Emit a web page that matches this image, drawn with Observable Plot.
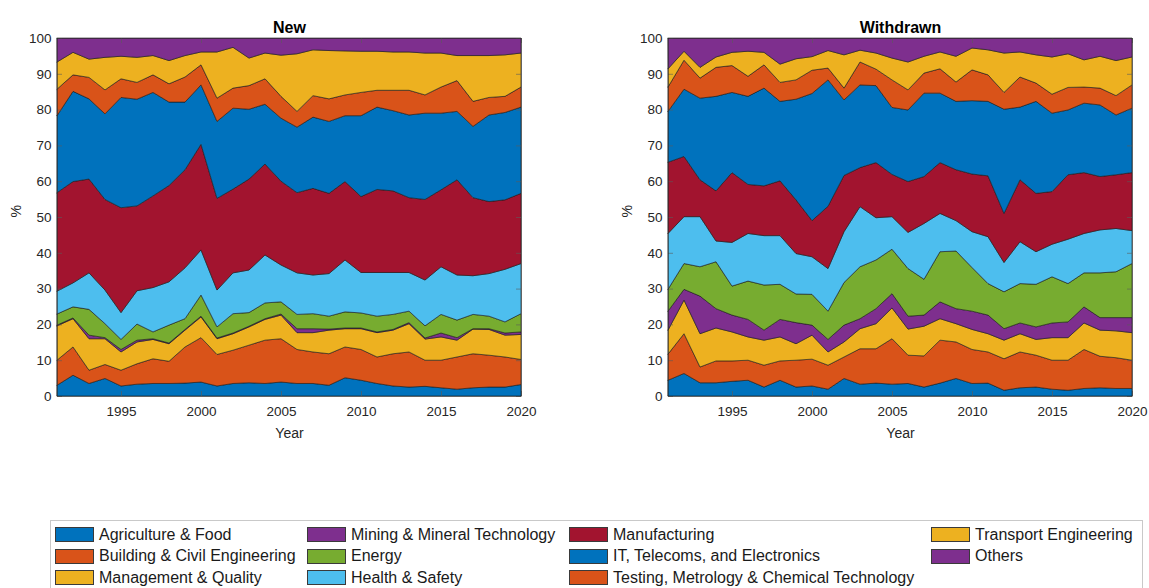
<!DOCTYPE html>
<html>
<head>
<meta charset="utf-8">
<script src="https://cdn.jsdelivr.net/npm/d3@7"></script>
<script src="https://cdn.jsdelivr.net/npm/@observablehq/plot@0.6"></script>
<style>
  body { margin: 0; background: #fff; font-family: "Liberation Sans", Arial, Helvetica, sans-serif; }
  #fig { position: relative; width: 1149px; height: 588px; overflow: hidden; background: #fff; }
  .panel { position: absolute; top: 0; }
  #legend { position: absolute; left: 50px; top: 520px; width: 1093px; height: 80px;
            border: 1px solid #c9c9c9; box-sizing: border-box; background: #fff; }
  .item { position: absolute; display: flex; align-items: center; font-size: 16px; color: #1a1a1a; white-space: nowrap; height: 15px; }
  .sw { width: 39px; height: 15px; box-sizing: border-box; border: 1px solid #3a3a3a; margin-right: 5px; flex: none; }
</style>
</head>
<body>
<div id="fig">
  <div id="left" class="panel" style="left:0px"></div>
  <div id="right" class="panel" style="left:590px"></div>
  <div id="legend"></div>
</div>
<script>
// Standards activity by sector, share of each year's total (%), 1991–2020
const years = [1991, 1992, 1993, 1994, 1995, 1996, 1997, 1998, 1999, 2000,
               2001, 2002, 2003, 2004, 2005, 2006, 2007, 2008, 2009, 2010,
               2011, 2012, 2013, 2014, 2015, 2016, 2017, 2018, 2019, 2020];

const categories = [
  "Agriculture & Food",
  "Building & Civil Engineering",
  "Management & Quality",
  "Mining & Mineral Technology",
  "Energy",
  "Health & Safety",
  "Manufacturing",
  "IT, Telecoms, and Electronics",
  "Testing, Metrology & Chemical Technology",
  "Transport Engineering",
  "Others"
];

const colors = ["#0072BD", "#D95319", "#EDB120", "#7E2F8E", "#77AC30", "#4DBEEE",
                "#A2142F", "#0072BD", "#D95319", "#EDB120", "#7E2F8E"];

const xTicks = [1995, 2000, 2005, 2010, 2015, 2020];
const yTicks = [0, 10, 20, 30, 40, 50, 60, 70, 80, 90, 100];

// New standards: share per sector (%)
const newAgriculture   = [3.0,5.8,3.5,4.9,2.8,3.3,3.5,3.5,3.6,3.9, 2.8,3.5,3.7,3.5,3.9,3.5,3.5,3.0,5.1,4.4, 3.5,2.8,2.5,2.7,2.3,1.9,2.3,2.5,2.5,3.2];
const newBuilding      = [7.0,7.9,3.7,3.9,4.4,5.7,6.9,6.2,10.1,12.4, 8.8,9.3,10.5,12.1,12.1,9.5,8.8,8.8,8.6,8.6, 7.4,9.0,9.8,7.3,7.7,9.0,9.5,8.9,8.4,7.0];
const newManagement    = [9.6,7.9,8.8,7.2,5.1,6.1,5.4,4.9,4.7,5.8, 4.4,4.6,5.1,5.8,6.6,4.7,5.4,6.6,5.1,5.8, 6.8,6.6,7.9,5.9,6.5,4.7,6.9,7.2,6.1,7.0];
const newMining        = [0.2,0.2,1.0,0.3,0.7,0.5,0.2,0.2,0.2,0.2, 0.2,0.2,0.2,0.2,0.3,1.1,1.1,0.3,0.2,0.2, 0.2,0.2,0.3,0.3,1.1,0.7,0.1,0.2,0.6,0.7];
const newEnergy        = [3.1,3.1,7.2,3.9,2.8,4.5,1.9,5.0,3.0,5.9, 3.1,5.4,3.8,4.4,3.4,4.0,4.2,3.6,4.5,4.2, 4.4,4.2,3.2,3.4,5.2,4.9,4.0,3.5,3.1,5.1];
const newHealth        = [6.4,6.7,10.2,9.4,7.5,9.3,12.4,12.1,14.2,12.6, 10.3,11.4,11.9,13.4,10.3,11.6,10.8,11.9,14.5,11.3, 12.2,11.7,10.8,12.8,13.3,12.6,10.8,11.9,14.7,14.0];
const newManufacturing = [27.5,28.3,26.2,25.3,29.3,23.7,25.6,26.9,27.4,29.5, 25.6,23.4,25.4,25.4,23.4,22.4,24.2,22.4,21.9,21.2, 23.2,22.8,20.9,22.5,21.5,26.6,21.8,20.1,19.4,19.6];
const newIT            = [21.5,25.2,22.4,23.9,30.8,29.8,28.9,23.3,18.9,16.6, 21.5,22.6,19.5,16.7,17.6,18.3,19.9,20.1,18.4,22.6, 23.0,22.4,23.1,24.1,21.4,19.1,19.9,24.2,24.4,24.1];
const newTesting       = [7.4,4.6,6.0,6.7,5.2,4.7,4.9,5.1,7.0,5.6, 6.5,5.6,6.6,7.1,6.1,4.4,6.0,6.3,5.8,6.5, 4.7,5.7,6.9,5.1,7.3,8.6,7.0,4.9,4.5,5.6];
const newTransport     = [7.6,6.3,5.1,9.1,6.3,7.0,5.4,6.5,6.0,3.6, 12.9,11.4,7.7,7.2,11.5,16.1,12.8,13.5,12.3,11.5, 10.9,10.7,10.7,11.7,9.5,7.0,12.8,11.7,11.6,9.5];
const newOthers        = [6.7,4.0,5.9,5.4,5.1,5.4,4.9,6.3,4.9,3.9, 3.9,2.6,5.6,4.2,4.8,4.4,3.3,3.5,3.6,3.7, 3.7,3.9,3.9,4.2,4.2,4.9,4.9,4.9,4.7,4.2];

// Withdrawn standards: share per sector (%)
const wdAgriculture   = [4.4,6.3,3.7,3.7,4.1,4.4,2.5,4.4,2.5,2.8, 1.9,4.9,3.3,3.6,3.3,3.5,2.5,3.6,4.9,3.5, 3.6,1.6,2.3,2.5,1.9,1.6,2.1,2.3,2.1,2.1];
const wdBuilding      = [7.3,11.1,4.4,6.1,5.7,5.6,6.1,5.4,7.5,7.5, 6.7,6.0,9.9,9.6,12.7,7.9,8.7,12.0,10.2,9.5, 8.7,8.8,10.0,8.9,8.1,8.4,10.9,8.8,8.6,7.9];
const wdManagement    = [6.7,9.4,9.3,9.2,8.1,6.5,7.0,6.7,4.6,6.7, 3.7,4.2,5.6,7.0,8.6,7.3,8.3,6.0,5.1,5.6, 5.1,5.2,5.1,4.4,6.3,6.3,7.4,7.3,7.5,7.7];
const wdMining        = [5.3,3.0,10.5,5.4,4.7,4.9,2.8,4.9,5.9,2.8, 3.5,4.7,2.8,4.2,4.0,3.6,3.1,4.7,4.2,5.1, 5.2,3.2,3.0,3.5,4.1,4.4,4.5,3.5,3.7,4.2];
const wdEnergy        = [6.1,7.2,8.2,13.1,8.1,10.7,12.6,9.8,8.0,8.6, 7.9,11.9,14.5,13.6,12.4,13.3,10.0,14.0,16.1,12.2, 8.8,10.3,11.0,11.9,12.9,10.7,9.5,12.5,12.8,15.1];
const wdHealth        = [15.6,13.1,14.0,5.8,12.2,13.3,13.8,13.6,11.3,10.5, 11.9,14.2,16.8,11.8,9.1,10.1,15.6,10.7,8.5,10.0, 13.1,8.2,11.7,9.1,9.1,12.4,11.0,12.0,12.1,9.2];
const wdManufacturing = [19.9,16.8,10.3,14.0,19.5,13.7,13.9,15.3,15.0,10.1, 17.4,15.7,10.9,15.4,11.8,14.2,13.1,14.2,14.2,16.1, 17.0,13.7,17.3,16.3,14.7,18.0,17.0,14.9,15.0,16.2];
const wdIT            = [14.2,18.8,22.8,26.4,22.4,24.6,27.3,22.2,28.1,35.5, 35.3,21.1,23.1,21.5,18.7,20.0,23.3,19.4,19.1,20.5, 20.8,29.1,20.3,25.7,21.9,18.1,19.4,20.0,16.7,18.0];
const wdTesting       = [6.8,8.1,5.6,8.1,7.5,5.6,6.5,5.3,5.4,6.5, 3.3,3.3,6.4,4.6,7.7,5.6,5.6,6.8,5.4,8.6, 7.4,4.7,8.4,5.1,5.3,6.3,4.5,4.7,5.4,6.5];
const wdTransport     = [5.1,2.5,3.0,2.9,3.7,7.0,3.5,5.1,5.9,3.8, 4.9,9.3,3.3,4.5,6.1,7.8,4.7,4.7,7.2,6.1, 7.0,11.0,7.0,7.9,10.4,9.4,7.6,8.9,9.8,7.8];
const wdOthers        = [8.6,3.7,8.2,5.3,4.0,3.7,4.0,7.3,5.8,5.2, 3.5,4.7,3.4,4.2,5.6,6.7,5.1,3.9,5.1,2.8, 3.3,4.2,3.9,4.7,5.3,4.4,6.1,5.1,6.3,5.3];

const newShares = [newAgriculture, newBuilding, newManagement, newMining, newEnergy, newHealth,
                   newManufacturing, newIT, newTesting, newTransport, newOthers];
const withdrawnShares = [wdAgriculture, wdBuilding, wdManagement, wdMining, wdEnergy, wdHealth,
                         wdManufacturing, wdIT, wdTesting, wdTransport, wdOthers];

const FONT = '"Liberation Sans", Arial, Helvetica, sans-serif';
const HEIGHT = 445, M_TOP = 38, M_BOTTOM = 49, INNER_W = 464;
const INNER_H = HEIGHT - M_TOP - M_BOTTOM;
const TICK = 5;

function toRows(shares) {
  return categories.flatMap((c, k) => years.map((y, i) => ({year: y, category: c, value: shares[k][i]})));
}

function panel(title, shares, marginLeft, marginRight) {
  const tickStyle = {stroke: "#5a5a5a", strokeWidth: 0.6};
  return Plot.plot({
    width: marginLeft + INNER_W + marginRight,
    height: HEIGHT,
    marginLeft, marginRight,
    marginTop: M_TOP, marginBottom: M_BOTTOM,
    style: {fontFamily: FONT, fontSize: "13.5px", color: "#262626", background: "transparent", overflow: "visible"},
    x: {domain: [1991, 2020], ticks: xTicks, tickFormat: d => String(d), tickSize: 0, tickPadding: 10, label: null},
    y: {domain: [0, 100], ticks: yTicks, tickSize: 0, tickPadding: 6, label: null},
    color: {domain: categories, range: colors},
    marks: [
      Plot.areaY(toRows(shares), Plot.stackY({
        x: "year", y: "value", z: "category", fill: "category", order: categories,
        stroke: "#1a1a1a", strokeWidth: 0.6, strokeLinejoin: "round"
      })),
      // inward ticks on all four sides of the box
      Plot.tickX(xTicks, {x: d => d, insetTop: INNER_H - TICK, ...tickStyle}),
      Plot.tickX(xTicks, {x: d => d, insetBottom: INNER_H - TICK, ...tickStyle}),
      Plot.tickY(yTicks, {y: d => d, insetRight: INNER_W - TICK, ...tickStyle}),
      Plot.tickY(yTicks, {y: d => d, insetLeft: INNER_W - TICK, ...tickStyle}),
      Plot.frame({stroke: "#2b2b2b", strokeWidth: 0.6}),
      Plot.text([title], {frameAnchor: "top", lineAnchor: "middle", dy: -11,
        fontWeight: "bold", fontSize: 16, fill: "#000"}),
      Plot.text(["Year"], {frameAnchor: "bottom", lineAnchor: "middle", dy: 37,
        fontSize: 14, fill: "#262626"}),
      Plot.text(["%"], {frameAnchor: "left", lineAnchor: "middle", dx: -41, rotate: -90,
        fontSize: 14, fill: "#262626"})
    ]
  });
}

document.getElementById("left").append(panel("New", newShares, 57, 54));
document.getElementById("right").append(panel("Withdrawn", withdrawnShares, 78, 17));

// Legend: three rows, filled column by column
const legend = document.getElementById("legend");
const colX = [55, 307, 569, 931];
const rowY = [527, 548.5, 570];
categories.forEach((c, k) => {
  const col = Math.floor(k / 3), row = k % 3;
  const item = document.createElement("div");
  item.className = "item";
  item.style.left = (colX[col] - 51) + "px";
  item.style.top = (rowY[row] - 521) + "px";
  const sw = document.createElement("div");
  sw.className = "sw";
  sw.style.background = colors[k];
  const label = document.createElement("span");
  label.textContent = c;
  item.append(sw, label);
  legend.append(item);
});
</script>
</body>
</html>
